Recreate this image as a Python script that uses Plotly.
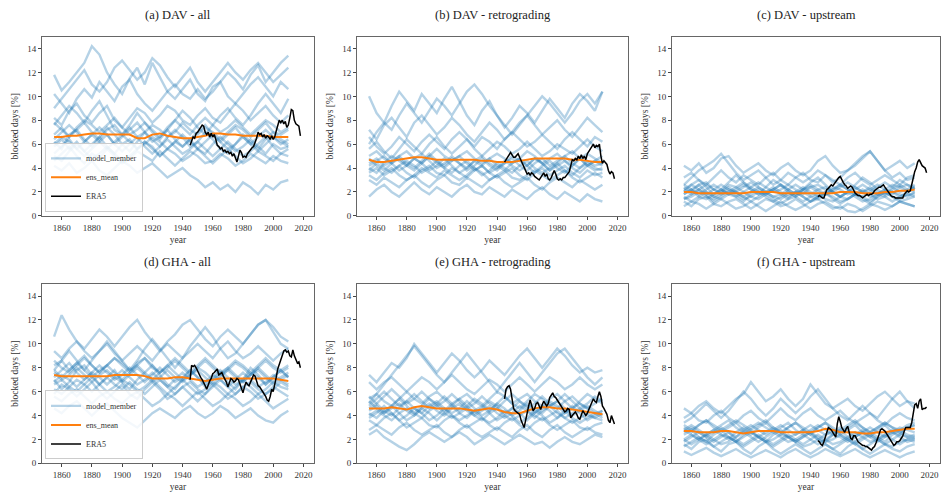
import plotly.graph_objects as go
from plotly.subplots import make_subplots

MEMBER_YEARS = list(range(1855, 2011, 5))
ERA5_YEARS = list(range(1945, 2019))

TITLES = ["(a) DAV - all", "(b) DAV - retrograding", "(c) DAV - upstream",
          "(d) GHA - all", "(e) GHA - retrograding", "(f) GHA - upstream"]

X_TICKS = [1860, 1880, 1900, 1920, 1940, 1960, 1980, 2000, 2020]
Y_TICKS = [0, 2, 4, 6, 8, 10, 12, 14]

# ---------------- (a) DAV - all ----------------
MEMBERS_A = [
    [11.8,10.5,11.2,12.0,12.8,14.2,13.5,12.0,11.0,10.2,11.5,12.4,11.0,12.8,11.6,10.4,9.8,10.6,11.4,10.2,9.6,10.8,11.2,12.0,11.4,10.6,11.8,12.6,11.2,12.0,12.8,13.4],
    [10.2,9.4,8.6,9.8,10.6,9.9,11.2,10.4,9.6,10.8,11.4,10.2,9.4,8.8,9.6,10.4,11.0,10.2,9.8,10.6,9.8,10.4,11.2,10.0,9.4,10.2,11.0,11.6,10.8,10.0,11.2,10.6],
    [8.2,7.6,8.8,9.4,8.4,7.8,8.6,9.2,8.0,7.4,8.2,9.0,8.6,7.8,8.4,9.2,8.8,8.0,7.6,8.4,9.0,8.2,7.8,8.6,9.4,8.8,8.0,8.6,9.2,8.4,7.8,8.4],
    [6.8,7.4,6.6,7.2,7.8,7.0,6.4,7.2,7.6,6.8,7.4,6.6,7.0,7.6,7.2,6.6,7.0,7.8,7.2,6.8,7.4,7.0,6.4,7.0,7.6,7.2,6.6,7.2,7.8,7.0,6.8,7.2],
    [5.8,6.4,5.6,6.2,5.4,6.0,6.6,5.8,5.2,6.0,6.4,5.6,6.2,5.8,5.0,5.6,6.2,5.8,6.4,5.6,5.2,6.0,6.6,6.0,5.4,5.8,6.4,5.8,5.2,6.0,5.6,5.8],
    [4.6,5.2,5.8,5.0,4.4,5.2,4.8,5.6,5.0,4.4,4.8,5.4,5.0,4.6,5.4,4.8,4.2,4.8,5.4,5.0,4.4,4.6,5.2,4.8,4.2,4.6,5.2,4.8,4.4,5.0,4.6,4.4],
    [4.2,3.8,4.4,3.6,4.0,4.6,3.8,3.4,4.0,4.6,4.2,3.6,4.0,4.4,3.8,3.2,3.6,4.0,3.4,3.0,2.4,2.8,2.2,2.6,2.0,2.8,2.4,1.8,2.6,2.2,2.8,3.0],
    [7.6,8.4,9.2,8.6,7.8,8.8,9.6,8.4,7.2,6.8,7.6,8.6,7.8,7.0,6.4,7.2,8.0,8.8,8.2,7.4,6.8,7.6,8.4,9.0,8.2,7.6,8.4,9.4,10.2,9.4,8.6,9.8],
    [6.2,5.6,6.8,7.2,6.4,5.8,6.6,7.4,6.8,6.0,5.4,6.2,7.0,6.4,5.8,6.6,7.2,6.6,5.8,6.2,7.0,6.4,5.6,5.2,6.0,6.8,6.2,5.6,6.4,7.0,6.4,6.0],
    [9.0,9.8,10.6,11.4,12.2,11.0,10.4,11.2,12.4,13.0,12.2,11.4,12.0,13.2,12.6,11.6,10.8,11.6,12.4,11.2,10.4,11.2,12.0,12.8,12.0,11.4,12.2,12.8,12.0,11.2,11.8,12.4],
    [6.4,7.0,7.6,7.0,6.2,6.8,7.4,6.8,6.0,6.6,7.2,7.8,7.0,6.2,6.6,7.2,6.4,5.8,6.4,7.0,7.6,6.8,6.2,6.8,7.4,6.6,6.0,6.6,7.2,6.6,6.0,6.4],
    [5.2,5.8,6.4,5.6,5.0,5.6,6.2,6.8,6.0,5.4,6.0,6.6,5.8,5.2,5.8,6.4,5.8,5.2,5.6,6.2,5.6,5.0,5.6,6.2,5.6,5.0,5.4,6.0,6.6,5.8,5.2,5.6],
    [7.8,7.2,6.6,7.4,8.0,7.6,7.0,7.6,8.2,7.4,6.8,7.2,7.8,7.2,6.6,7.4,8.0,7.4,6.8,7.6,8.2,7.6,7.0,7.4,8.0,7.4,6.8,7.4,8.0,7.6,7.0,7.4],
    [5.0,4.6,5.4,6.0,5.4,4.8,5.2,5.8,5.2,4.6,5.0,5.6,6.2,5.6,5.0,5.6,5.2,4.6,5.0,5.6,5.0,4.4,5.0,5.6,5.0,4.4,4.8,5.4,5.0,4.6,5.2,5.0],
    [6.0,6.6,6.2,5.6,6.2,6.8,6.2,5.6,6.2,6.8,6.2,5.6,6.0,6.6,6.2,5.6,6.2,6.8,6.2,5.6,6.2,6.8,6.2,5.6,6.0,6.6,6.0,5.4,6.0,6.6,6.2,5.8],
]
ENS_A = [6.6,6.6,6.7,6.7,6.8,6.9,6.9,6.8,6.8,6.8,6.8,6.5,6.5,6.8,6.9,6.7,6.6,6.5,6.5,6.6,6.7,6.9,6.9,6.8,6.8,6.7,6.7,6.7,6.7,6.6,6.6,6.6]
ERA5_A = [5.9,6.3,6.6,6.5,6.9,7.0,7.2,7.3,7.6,7.5,7.0,6.8,7.0,6.6,6.9,6.6,6.8,6.4,5.9,5.8,
          5.6,5.7,5.4,5.5,5.3,5.4,5.2,5.3,5.0,5.2,4.8,4.5,5.0,5.5,5.3,4.9,5.0,4.9,5.2,5.4,
          5.5,5.7,5.8,6.1,6.5,7.0,6.8,6.9,6.6,6.8,6.5,6.7,6.6,6.4,6.7,6.4,6.6,7.1,7.5,8.0,
          7.8,8.0,7.7,7.9,7.4,7.6,8.2,8.9,8.8,8.0,7.7,7.6,7.5,6.7]

# ---------------- (b) DAV - retrograding ----------------
MEMBERS_B = [
    [10.0,8.6,7.8,9.2,10.4,9.6,8.8,10.2,9.4,8.6,9.8,10.8,9.6,8.4,7.6,8.8,9.6,8.4,7.4,8.2,9.2,8.6,7.8,8.8,9.8,9.0,8.2,9.4,10.2,9.6,8.8,10.4],
    [7.2,6.4,7.6,8.2,7.4,6.6,7.8,8.4,7.6,6.8,7.4,8.2,7.6,6.8,6.2,7.0,7.8,7.2,6.4,7.0,7.8,8.4,7.6,6.8,7.4,8.0,7.2,6.6,7.4,8.2,7.6,7.0],
    [5.6,6.2,5.4,4.8,5.6,6.4,5.8,5.2,6.0,6.6,5.8,5.2,5.8,6.4,5.6,5.0,5.6,6.2,5.8,5.2,5.6,6.2,5.6,5.0,5.4,6.0,5.6,5.2,5.8,6.4,5.8,5.4],
    [4.4,4.8,4.2,4.6,5.0,4.4,4.0,4.6,5.2,4.6,4.2,4.8,4.4,4.0,4.6,5.0,4.4,4.0,4.4,4.8,4.2,3.8,4.4,4.8,4.2,4.6,5.0,4.4,4.0,4.6,4.2,4.4],
    [3.6,4.0,3.4,3.8,4.2,3.6,3.2,3.8,4.2,3.6,3.4,4.0,3.6,3.2,3.8,4.2,3.6,3.2,3.6,4.0,3.4,3.0,3.6,4.0,3.4,3.8,4.2,3.6,3.2,3.8,3.4,3.6],
    [3.0,2.6,3.2,2.8,2.4,3.0,3.4,2.8,2.4,3.0,3.4,2.8,2.6,3.2,2.8,2.4,3.0,3.4,2.8,2.4,2.8,3.2,2.6,2.2,2.8,3.2,2.8,2.4,3.0,2.6,2.2,2.6],
    [1.6,2.2,2.6,2.0,1.6,2.2,2.8,2.2,1.8,2.4,2.0,1.6,2.2,2.6,2.0,1.8,2.4,2.0,1.6,2.2,1.8,1.4,2.0,2.4,1.8,1.4,2.0,1.6,1.2,1.8,1.4,1.2],
    [6.0,7.0,7.8,7.2,8.4,9.4,8.6,7.8,8.8,9.8,9.2,8.4,9.4,10.4,11.0,10.2,9.2,8.4,7.6,6.8,7.6,8.4,9.2,10.0,9.4,8.6,7.8,8.6,9.6,10.2,9.4,10.4],
    [4.0,3.6,4.4,5.0,4.6,4.2,4.8,5.2,4.6,4.0,4.4,5.0,4.4,3.8,4.2,4.8,4.2,3.8,4.4,5.0,4.6,4.2,4.8,4.4,3.8,4.4,5.0,5.4,4.8,4.2,4.6,5.0],
    [6.6,5.8,5.2,5.8,6.6,6.0,5.4,6.2,6.8,6.2,5.6,6.4,7.0,6.4,5.8,6.6,6.2,5.6,6.4,7.0,6.4,5.8,6.2,6.8,6.2,5.6,6.4,7.0,6.4,5.8,6.6,6.2],
    [4.2,4.6,5.0,4.4,3.8,4.2,4.8,4.4,3.8,4.2,4.8,4.2,3.6,4.0,4.6,4.2,3.6,4.0,4.6,4.2,3.8,4.2,4.8,4.4,3.8,4.2,4.6,4.0,3.6,4.2,4.6,4.2],
    [3.4,3.0,3.6,4.0,3.4,3.0,3.4,4.0,3.6,3.2,3.8,3.4,3.0,3.4,4.0,3.6,3.0,3.4,3.8,3.2,3.0,3.4,3.8,3.4,3.0,3.4,3.8,3.2,2.8,3.2,3.6,3.2],
    [5.0,5.4,4.8,4.4,5.0,5.4,4.8,4.4,5.0,5.6,5.0,4.6,5.0,5.4,4.8,4.4,4.8,5.2,4.8,4.4,4.8,5.4,5.0,4.4,4.8,5.2,4.6,4.2,4.8,5.2,4.8,4.4],
    [3.8,4.4,4.0,3.6,4.2,4.6,4.2,3.6,4.0,4.6,4.0,3.6,4.2,4.6,4.0,3.4,3.8,4.4,4.0,3.6,4.2,4.6,4.0,3.6,4.0,4.4,3.8,3.4,4.0,4.4,4.0,3.8],
    [4.8,4.2,3.8,4.4,4.8,4.2,3.8,4.4,5.0,4.4,4.0,4.6,5.0,4.4,3.8,4.2,4.8,4.2,3.8,4.4,4.8,4.2,3.6,4.2,4.6,4.0,3.6,4.2,4.8,4.2,3.8,4.0],
]
ENS_B = [4.7,4.5,4.5,4.6,4.7,4.8,4.9,4.9,4.8,4.7,4.7,4.7,4.7,4.7,4.7,4.6,4.6,4.5,4.5,4.5,4.6,4.7,4.8,4.8,4.8,4.8,4.8,4.7,4.7,4.6,4.5,4.5]
ERA5_B = [4.5,4.7,5.0,5.2,5.3,5.1,4.9,4.9,5.1,5.2,4.9,4.6,4.3,4.0,3.7,3.5,3.6,3.4,3.6,3.5,
          3.3,3.2,3.1,3.0,3.2,3.4,3.6,3.3,3.5,3.1,3.0,3.2,3.5,3.8,3.5,3.1,3.0,3.1,3.0,3.2,
          3.2,3.4,3.6,3.7,4.2,4.7,4.6,4.8,4.7,5.0,4.8,5.1,4.8,5.0,4.7,5.2,5.4,5.6,5.8,6.0,
          5.7,5.9,5.8,6.0,5.0,4.4,4.6,4.4,4.3,3.8,3.5,3.7,3.6,3.1]

# ---------------- (c) DAV - upstream ----------------
MEMBERS_C = [
    [4.2,3.8,4.4,3.6,4.0,4.8,5.0,4.2,3.6,4.0,4.4,3.8,3.4,4.0,4.4,3.8,3.4,3.8,4.6,5.0,4.2,3.6,3.8,4.2,4.8,5.4,4.6,3.8,4.2,4.6,4.0,4.4],
    [3.2,3.6,3.0,2.6,3.2,3.8,3.2,2.8,3.4,3.0,2.6,3.2,3.6,3.0,2.6,3.2,3.6,3.0,2.8,3.4,3.0,2.6,3.2,3.6,3.0,2.6,3.0,3.4,3.0,2.6,3.2,3.4],
    [2.4,2.0,2.6,2.8,2.2,2.0,2.6,2.4,2.0,2.4,2.8,2.4,2.0,2.2,2.6,2.2,1.8,2.4,2.6,2.2,2.0,2.4,2.8,2.4,2.0,2.2,2.6,2.2,1.8,2.4,2.6,2.4],
    [1.8,2.2,1.6,1.4,1.8,2.2,1.8,1.6,2.0,1.6,1.4,1.8,2.2,1.8,1.4,1.6,2.0,1.6,1.4,1.8,2.0,1.6,1.4,1.8,2.2,1.8,1.4,1.6,2.0,1.8,1.6,2.0],
    [1.2,0.8,1.4,1.6,1.0,0.8,1.2,1.4,1.0,0.6,1.0,1.4,1.2,0.8,1.0,1.4,1.0,0.6,1.0,1.2,0.8,0.6,1.0,0.8,0.4,0.8,1.2,1.0,0.8,1.2,1.0,0.8],
    [2.0,2.6,3.0,2.4,1.8,2.2,2.8,3.4,2.8,2.2,1.8,2.4,3.0,2.6,2.0,1.6,2.2,2.8,3.2,2.6,2.0,1.6,2.0,2.6,3.2,2.8,2.2,1.8,2.4,3.0,2.6,2.2],
    [1.4,1.8,2.2,1.8,1.2,1.6,2.0,1.6,1.2,1.8,2.2,1.8,1.4,1.0,1.4,2.0,1.6,1.2,1.6,2.0,1.4,1.0,1.4,1.8,1.4,1.0,1.6,2.0,1.6,1.2,1.4,1.6],
    [2.6,3.2,3.8,4.2,4.6,5.2,4.4,3.6,3.0,3.4,3.8,3.2,2.6,3.0,3.6,3.2,2.8,3.2,3.8,3.4,2.8,3.2,3.8,4.4,5.0,5.4,4.6,3.8,3.2,3.6,3.0,3.2],
    [2.2,1.8,2.2,2.6,2.2,1.8,2.0,2.4,2.8,2.4,2.0,1.8,2.2,2.6,2.2,1.8,2.2,2.6,2.2,1.8,2.2,2.6,2.2,1.8,1.6,2.0,2.4,2.8,2.4,2.0,2.2,2.6],
    [0.8,1.2,1.0,0.6,1.0,1.4,1.0,0.6,0.8,1.2,0.8,0.4,0.8,1.2,0.8,0.5,0.8,1.2,1.4,1.0,0.6,0.8,0.4,0.3,0.6,1.0,0.8,0.5,0.8,1.2,1.0,0.8],
    [1.8,2.2,2.6,2.0,1.6,2.0,2.4,2.0,1.6,2.0,2.4,2.0,1.6,1.8,2.2,2.6,2.2,1.8,2.2,2.4,2.0,1.6,2.0,2.4,2.0,1.6,1.8,2.2,2.0,1.6,2.0,2.4],
    [2.6,2.2,1.8,2.2,2.6,2.2,1.8,2.2,2.6,2.2,1.8,2.0,2.4,2.0,1.6,2.0,2.4,2.0,1.6,2.0,2.4,2.2,1.8,2.2,2.6,2.2,1.8,2.2,2.6,2.4,2.0,2.4],
    [1.4,1.6,2.0,1.6,1.4,1.8,2.2,1.8,1.4,1.6,2.0,1.6,1.2,1.6,2.0,1.6,1.2,1.6,1.8,1.4,1.2,1.6,2.0,1.6,1.2,1.4,1.8,1.6,1.2,1.6,1.8,1.6],
    [2.2,2.6,2.2,1.8,2.2,2.6,2.2,2.0,2.4,2.8,2.4,2.0,2.2,2.6,2.2,1.8,2.2,2.4,2.0,1.8,2.2,2.6,2.2,1.8,2.0,2.4,2.0,1.8,2.2,2.6,2.2,2.0],
    [1.6,1.2,1.6,2.0,1.6,1.4,1.8,2.0,1.6,1.2,1.6,2.0,1.6,1.4,1.8,2.0,1.6,1.2,1.6,1.8,1.6,1.2,1.4,1.8,1.6,1.2,1.6,2.0,1.6,1.4,1.8,1.8],
]
ENS_C = [2.0,2.0,1.9,1.9,1.9,1.9,1.9,1.9,1.9,2.0,2.0,2.0,2.0,1.9,1.9,1.9,1.9,1.9,1.9,1.9,1.9,2.0,2.0,2.0,1.9,1.9,1.9,2.0,2.0,2.1,2.1,2.2]
ERA5_C = [1.6,1.7,1.6,1.5,1.5,1.9,2.2,2.3,2.5,2.6,2.5,2.7,2.9,3.1,3.2,3.3,3.0,2.8,2.6,2.5,
          2.3,2.4,2.5,2.4,2.1,1.9,1.8,1.7,1.7,1.6,1.5,1.6,1.7,1.8,1.7,1.8,1.8,1.9,2.1,2.2,
          2.3,2.4,2.4,2.5,2.6,2.4,2.2,2.0,1.8,1.7,1.6,1.6,1.5,1.5,1.5,1.5,1.5,1.5,1.8,2.0,
          2.1,2.0,2.1,2.6,3.2,3.7,4.0,4.5,4.7,4.4,4.2,4.1,4.0,3.6]

# ---------------- (d) GHA - all ----------------
MEMBERS_D = [
    [10.6,12.4,11.2,10.2,9.6,10.4,11.2,10.6,9.8,10.6,11.4,12.0,11.0,10.2,9.4,10.2,10.8,11.6,12.0,11.2,10.4,9.8,10.6,11.2,10.6,10.0,10.8,11.6,12.0,11.4,10.6,10.2],
    [9.4,8.8,9.6,10.2,9.4,8.8,9.4,10.0,9.2,8.6,9.2,9.8,9.2,8.6,9.4,10.0,9.4,8.8,9.4,10.0,9.4,8.8,9.6,10.2,9.4,8.8,9.2,9.8,9.2,8.6,9.2,9.6],
    [8.2,8.6,7.8,8.4,9.0,8.2,7.6,8.2,8.8,8.2,7.6,8.4,8.8,8.0,7.6,8.2,8.8,8.2,7.6,8.2,8.8,8.2,7.6,8.0,8.6,8.2,7.6,8.2,8.8,8.2,7.8,8.2],
    [7.6,7.0,7.4,8.0,7.4,6.8,7.4,7.8,7.2,6.8,7.4,8.0,7.4,6.8,7.2,7.8,7.2,6.8,7.4,7.8,7.2,6.6,7.2,7.8,7.2,6.8,7.4,7.8,7.2,6.6,7.0,7.4],
    [6.6,7.0,6.4,6.0,6.6,7.2,6.6,6.0,6.4,7.0,6.6,6.0,6.4,7.0,6.4,5.8,6.4,7.0,6.4,5.8,6.2,6.8,6.4,5.8,6.4,7.0,6.4,5.8,6.2,6.8,6.4,6.2],
    [5.6,5.2,5.8,6.2,5.6,5.0,5.6,6.0,5.4,5.0,5.6,6.0,5.4,4.8,5.2,5.8,5.4,4.8,5.4,6.0,5.4,4.8,5.2,5.8,5.4,4.8,5.2,5.8,5.2,4.6,5.0,5.4],
    [4.6,4.2,4.8,5.2,4.6,4.0,4.6,5.0,4.4,3.8,3.4,3.0,3.6,4.2,4.6,4.2,3.8,4.4,4.8,4.2,3.8,4.2,4.8,4.4,3.8,4.2,4.6,4.0,3.6,3.4,4.0,4.4],
    [7.8,8.6,9.4,8.6,7.8,8.6,9.4,10.2,9.4,8.6,7.8,8.6,9.6,10.4,9.6,8.8,8.0,8.8,9.8,10.6,11.4,10.6,9.6,8.8,9.2,10.0,10.8,11.6,12.0,11.0,10.0,9.6],
    [7.0,6.2,6.8,7.8,8.2,7.4,6.6,7.2,7.8,6.8,6.2,7.0,7.6,8.2,7.4,6.6,6.2,7.0,7.8,7.2,6.4,7.0,7.6,6.8,6.2,7.0,8.0,7.4,6.6,7.2,7.8,7.2],
    [5.8,6.6,6.2,5.6,6.2,6.8,6.0,5.4,6.0,6.6,5.8,5.4,6.2,6.8,6.2,5.4,5.8,6.4,5.8,5.2,5.8,6.6,6.0,5.4,5.8,6.4,6.0,5.4,5.8,6.4,6.0,5.6],
    [7.2,7.8,8.4,7.6,7.0,7.6,8.2,7.6,7.0,7.4,8.0,7.4,6.8,7.4,8.0,7.4,6.8,7.2,7.8,7.2,6.6,7.2,7.8,7.2,6.6,7.0,7.6,7.2,6.6,7.2,7.8,7.2],
    [6.2,5.8,6.4,7.0,6.6,6.0,6.6,7.2,6.6,6.2,6.8,6.2,5.8,6.4,7.0,6.4,5.8,6.4,6.8,6.2,5.8,6.4,7.0,6.4,5.8,6.4,6.8,6.2,5.8,6.2,6.8,6.4],
    [8.6,8.0,7.6,8.2,8.8,8.2,7.6,8.2,8.8,8.4,7.8,8.2,8.8,8.2,7.6,8.0,8.6,8.0,7.4,8.0,8.6,8.0,7.4,7.8,8.4,8.0,7.4,8.0,8.6,8.0,7.6,8.0],
    [6.8,7.4,7.0,6.4,7.0,7.6,7.2,6.6,7.2,7.8,7.2,6.6,7.0,7.6,7.0,6.4,7.0,7.6,7.0,6.4,6.8,7.4,7.0,6.4,7.0,7.6,7.0,6.4,6.8,7.4,7.0,6.6],
    [7.8,7.2,7.8,8.4,7.8,7.2,7.8,8.2,7.6,7.0,7.6,8.2,7.6,7.0,7.6,8.2,7.6,7.0,7.4,8.0,7.6,7.0,7.4,8.0,7.4,6.8,7.4,8.0,7.4,6.8,7.2,7.6],
]
ENS_D = [7.4,7.3,7.3,7.3,7.3,7.3,7.3,7.3,7.4,7.4,7.4,7.4,7.3,7.1,7.1,7.1,7.2,7.2,7.1,7.0,6.9,7.0,7.1,7.1,7.1,7.1,7.1,7.1,7.1,7.1,7.0,6.9]
ERA5_D = [7.0,8.2,8.1,8.2,8.0,7.7,7.4,7.2,7.0,6.8,6.5,6.2,6.6,6.9,7.1,7.5,7.6,7.8,7.9,7.4,
          7.5,7.6,7.3,7.1,6.8,6.4,6.8,7.1,7.0,6.8,6.9,7.1,7.0,6.6,6.4,5.9,6.4,6.8,6.6,6.5,
          6.8,7.2,7.4,7.3,6.9,6.5,6.4,6.2,6.1,5.9,5.6,5.3,5.2,5.6,6.2,6.0,6.5,7.2,7.9,8.3,
          8.7,9.0,9.4,9.5,9.3,9.4,9.0,8.9,9.5,9.0,8.6,8.4,8.5,8.0]

# ---------------- (e) GHA - retrograding ----------------
MEMBERS_E = [
    [7.4,6.8,7.6,8.4,8.0,8.8,10.0,9.2,8.4,7.6,8.4,9.2,8.6,7.8,7.2,7.8,8.6,8.0,7.4,8.2,9.0,9.6,8.8,8.0,8.8,9.6,9.0,8.2,7.6,8.0,7.6,7.8],
    [6.8,6.2,6.8,7.2,6.6,6.0,6.6,7.2,6.8,6.2,6.8,7.4,6.8,6.2,5.8,6.4,7.0,6.6,6.0,6.6,7.2,6.6,6.0,6.6,7.2,6.8,6.2,6.6,7.2,6.6,6.2,6.6],
    [5.4,5.8,5.2,4.8,5.4,6.0,5.4,5.0,5.6,6.0,5.4,4.8,5.4,5.8,5.2,4.8,5.4,6.0,5.6,5.0,5.4,5.8,5.2,4.8,5.4,5.8,5.2,4.6,5.2,5.8,5.4,5.0],
    [4.4,4.8,4.2,4.6,5.0,4.4,4.0,4.6,5.0,4.4,4.0,4.6,5.0,4.4,4.0,4.4,4.8,4.2,3.8,4.2,4.8,4.4,3.8,4.4,4.8,4.2,3.8,4.2,4.6,4.0,3.8,4.2],
    [3.6,3.2,3.8,4.2,3.6,3.0,3.4,3.8,3.2,3.0,3.6,4.0,3.4,3.0,3.4,3.8,3.2,2.8,3.4,3.8,3.2,2.8,3.4,3.8,3.2,2.8,3.2,3.6,3.0,2.8,3.2,3.4],
    [2.4,2.8,2.2,1.8,1.4,1.1,1.6,2.2,2.6,2.2,1.8,2.2,2.6,2.2,1.6,2.0,2.4,2.0,1.6,2.0,2.4,2.0,1.6,1.8,1.3,1.8,2.2,1.8,1.6,2.0,2.4,2.2],
    [2.8,3.2,2.8,2.4,3.0,3.4,2.8,2.4,2.8,3.2,2.6,2.2,2.8,3.2,2.6,2.2,2.6,3.0,2.6,2.2,2.8,3.2,2.6,2.2,2.8,3.2,2.6,2.2,2.6,3.0,2.6,2.4],
    [5.0,5.8,6.6,7.4,8.2,9.0,9.8,9.0,8.2,7.4,6.8,7.6,8.4,9.2,8.4,7.6,6.8,6.0,6.8,7.6,8.4,7.6,6.8,7.6,8.4,9.2,9.6,8.8,8.0,7.2,6.6,7.2],
    [4.2,3.8,4.4,4.8,4.2,3.6,4.0,4.6,4.2,3.6,4.2,4.8,4.2,3.8,4.4,4.8,4.2,3.6,4.0,4.6,4.2,3.6,4.2,4.8,4.4,3.8,4.2,4.8,4.2,3.6,4.0,4.4],
    [4.8,5.4,6.0,5.4,4.8,5.2,5.8,5.2,4.6,5.0,5.6,5.0,4.4,4.8,5.4,5.0,4.4,5.0,5.6,5.0,4.6,5.2,5.8,5.4,4.8,5.2,5.8,5.2,4.6,5.0,5.6,5.2],
    [4.6,5.0,4.4,4.0,4.6,5.2,4.6,4.2,4.8,5.2,4.6,4.2,4.6,5.2,4.6,4.0,4.4,5.0,4.6,4.0,4.4,5.0,4.6,4.2,4.8,5.2,4.6,4.0,4.4,4.8,4.4,4.0],
    [3.8,4.2,4.8,4.2,3.6,4.0,4.6,4.2,3.6,4.0,4.6,4.0,3.6,4.0,4.4,3.8,3.4,3.8,4.4,4.0,3.4,3.8,4.4,4.0,3.4,3.8,4.4,3.8,3.4,3.8,4.2,3.8],
    [5.6,5.0,5.6,6.2,5.6,5.0,5.4,6.0,5.4,4.8,5.2,5.8,5.2,4.6,5.0,5.6,5.0,4.6,5.2,5.8,5.2,4.6,5.0,5.6,5.0,4.6,5.2,5.6,5.0,4.6,5.0,5.4],
    [4.0,4.4,4.0,3.6,4.2,4.6,4.2,3.8,4.4,4.8,4.2,3.8,4.2,4.6,4.0,3.6,4.2,4.6,4.0,3.6,4.0,4.4,4.0,3.6,4.0,4.4,3.8,3.4,3.8,4.2,3.8,3.6],
    [5.2,4.6,4.2,4.8,5.4,4.8,4.2,4.8,5.4,5.0,4.4,5.0,5.4,4.8,4.2,4.6,5.2,4.8,4.2,4.6,5.2,4.8,4.2,4.6,5.2,4.8,4.2,4.6,5.0,4.6,4.2,4.4],
]
ENS_E = [4.6,4.6,4.6,4.7,4.6,4.5,4.7,4.8,4.7,4.6,4.6,4.6,4.6,4.5,4.4,4.5,4.6,4.5,4.3,4.2,4.2,4.4,4.6,4.7,4.7,4.6,4.6,4.5,4.4,4.3,4.2,4.1]
ERA5_E = [5.4,6.2,6.4,6.5,6.2,5.4,4.6,4.4,4.3,4.2,4.1,3.6,3.2,3.0,3.6,4.3,4.8,5.3,4.9,4.4,
          4.6,5.0,5.1,4.8,4.5,4.9,5.2,5.0,4.8,5.0,5.5,5.7,5.9,5.6,5.5,5.3,5.1,4.9,4.6,4.5,
          4.3,4.4,4.6,4.5,3.8,4.0,4.2,4.3,4.1,3.8,3.7,4.1,4.4,4.2,4.0,4.2,4.5,4.7,5.1,5.4,
          5.2,5.1,5.6,6.0,5.6,4.8,4.6,4.3,4.1,3.6,3.4,4.0,3.7,3.3]

# ---------------- (f) GHA - upstream ----------------
MEMBERS_F = [
    [4.6,4.2,4.8,5.2,4.6,4.2,4.8,5.4,5.8,6.8,6.0,5.2,5.6,6.2,5.4,4.8,5.4,6.6,5.8,5.0,4.6,5.0,5.4,4.8,4.4,5.0,5.6,6.0,5.4,4.8,5.2,5.0],
    [3.8,4.2,3.6,3.4,4.0,4.4,3.8,3.4,4.0,4.4,3.8,3.4,4.0,4.6,4.0,3.6,4.2,4.6,4.0,3.6,4.0,4.4,3.8,3.4,3.8,4.2,3.6,3.2,3.8,4.2,3.8,3.6],
    [3.0,2.6,3.2,3.6,3.0,2.6,3.0,3.4,2.8,2.4,3.0,3.4,2.8,2.4,3.0,3.4,2.8,2.4,3.0,3.4,2.8,2.4,2.8,3.2,2.6,2.2,2.8,3.2,2.6,2.4,3.0,3.2],
    [2.4,2.8,2.2,1.8,2.4,2.8,2.2,1.8,2.4,2.8,2.2,1.8,2.4,2.8,2.2,1.8,2.2,2.6,2.0,1.8,2.4,2.8,2.2,1.8,2.2,2.6,2.2,1.8,2.4,2.8,2.4,2.2],
    [1.6,1.2,1.8,2.0,1.4,1.0,1.6,1.8,1.2,0.8,1.4,1.8,1.2,0.8,1.2,1.6,1.2,0.8,1.2,1.6,1.2,0.8,1.4,1.8,1.2,0.8,1.2,1.6,1.2,1.0,1.4,1.6],
    [1.8,2.2,2.6,2.2,1.8,2.2,2.6,2.0,1.6,2.0,2.4,2.0,1.6,2.0,2.4,2.0,1.6,2.0,2.4,2.0,1.6,1.8,2.2,2.6,2.2,1.8,2.0,2.4,2.0,1.6,2.0,2.2],
    [3.4,3.8,4.4,5.0,4.4,3.8,4.4,5.2,6.0,5.4,4.6,4.0,4.6,5.4,4.8,4.2,4.8,5.6,6.2,5.4,4.6,4.0,3.6,4.2,4.8,4.2,3.8,4.6,5.4,6.0,5.2,4.6],
    [1.0,0.7,1.0,1.3,0.9,0.6,0.9,1.2,0.8,0.5,0.8,1.1,0.8,0.5,0.9,1.2,0.8,0.5,0.8,1.2,0.9,0.6,0.9,1.2,0.8,0.5,0.8,1.1,0.8,0.5,0.8,1.0],
    [2.8,3.2,2.8,2.4,2.8,3.2,3.6,3.0,2.6,3.0,3.4,3.0,2.6,3.0,3.4,2.8,2.4,2.8,3.2,2.8,2.4,2.8,3.2,3.6,3.0,2.6,3.0,3.4,3.0,2.6,3.0,3.2],
    [2.0,1.6,2.0,2.4,2.0,1.6,1.8,2.2,2.6,2.2,1.8,2.2,2.6,2.2,1.8,2.0,2.4,2.0,1.6,2.0,2.4,2.2,1.8,2.2,2.6,2.2,1.8,2.2,2.6,2.2,1.8,2.0],
    [2.6,3.0,2.6,2.2,2.6,3.0,2.6,2.2,2.8,3.2,2.8,2.4,2.8,3.2,2.8,2.4,2.8,3.2,2.8,2.4,2.6,3.0,2.6,2.2,2.6,3.0,2.6,2.2,2.6,3.0,2.8,2.6],
    [2.0,2.4,2.0,1.6,2.0,2.4,2.2,1.8,2.2,2.6,2.2,1.8,2.0,2.4,2.2,1.8,2.2,2.6,2.2,1.8,2.0,2.4,2.0,1.6,2.0,2.4,2.0,1.6,2.0,2.4,2.2,2.0],
    [3.2,2.8,3.2,3.6,3.2,2.8,3.2,3.6,3.2,2.8,3.2,3.6,3.0,2.6,3.0,3.4,3.0,2.6,3.0,3.4,3.0,2.6,3.0,3.4,3.0,2.6,3.0,3.4,3.0,2.8,3.2,3.4],
    [1.4,1.8,2.2,1.8,1.4,1.8,2.2,1.8,1.4,1.8,2.2,1.8,1.4,1.8,2.2,1.8,1.4,1.6,2.0,1.6,1.2,1.6,2.0,1.6,1.2,1.6,2.0,1.6,1.4,1.8,2.0,1.8],
    [2.8,2.4,2.0,2.4,2.8,2.4,2.0,2.6,3.0,2.6,2.2,2.6,3.0,2.6,2.2,2.4,2.8,2.4,2.0,2.4,2.8,2.4,2.0,2.4,2.8,2.4,2.0,2.4,2.8,2.6,2.2,2.4],
]
ENS_F = [2.7,2.7,2.6,2.6,2.6,2.7,2.7,2.6,2.5,2.6,2.7,2.7,2.7,2.6,2.6,2.6,2.6,2.6,2.7,2.9,2.8,2.6,2.6,2.6,2.5,2.5,2.6,2.6,2.7,2.8,2.9,2.9]
ERA5_F = [1.9,1.8,1.6,1.5,1.8,2.2,2.6,3.0,2.9,2.8,2.6,2.4,2.2,3.3,3.9,3.5,3.0,2.8,2.6,2.9,
          3.1,2.6,2.1,2.0,2.3,2.3,2.0,1.8,1.7,1.6,1.5,1.5,1.4,1.4,1.3,1.2,1.1,1.3,1.4,1.7,
          2.0,2.4,2.8,2.9,2.8,2.7,2.5,2.3,2.1,1.9,1.7,1.5,1.6,1.8,1.8,1.9,2.1,2.3,2.7,3.0,
          3.0,3.0,3.0,3.4,4.2,4.9,5.0,4.6,5.2,5.4,4.5,4.6,4.6,4.7]

PANELS = [
    (MEMBERS_A, ENS_A, ERA5_A), (MEMBERS_B, ENS_B, ERA5_B), (MEMBERS_C, ENS_C, ERA5_C),
    (MEMBERS_D, ENS_D, ERA5_D), (MEMBERS_E, ENS_E, ERA5_E), (MEMBERS_F, ENS_F, ERA5_F),
]

W, H = 941, 502
FONT = "Liberation Serif"
MEMBER_COLOR = "rgba(31,119,180,0.33)"
ENS_COLOR = "#ff7f0e"
ERA5_COLOR = "black"

COL_PX = [(42, 314), (357, 628), (672, 940)]
ROW_PX = [(37, 218), (287, 468)]

fig = make_subplots(rows=2, cols=3)

for i, (members, ens, era5) in enumerate(PANELS):
    r, c = i // 3 + 1, i % 3 + 1
    has_legend = (c == 1)
    leg = "legend" if r == 1 else "legend2"
    for j, m in enumerate(members):
        fig.add_trace(go.Scatter(x=MEMBER_YEARS, y=m, mode="lines",
                                 line=dict(color=MEMBER_COLOR, width=2.4),
                                 name="model_member", legend=leg,
                                 showlegend=(has_legend and j == 0),
                                 hoverinfo="skip"), row=r, col=c)
    fig.add_trace(go.Scatter(x=MEMBER_YEARS, y=ens, mode="lines",
                             line=dict(color=ENS_COLOR, width=2),
                             name="ens_mean", legend=leg, showlegend=has_legend),
                  row=r, col=c)
    fig.add_trace(go.Scatter(x=ERA5_YEARS, y=era5, mode="lines",
                             line=dict(color=ERA5_COLOR, width=1.5),
                             name="ERA5", legend=leg, showlegend=has_legend),
                  row=r, col=c)

annotations = []
for i in range(6):
    r, c = i // 3, i % 3
    x0, x1 = COL_PX[c]
    y0, y1 = ROW_PX[r]
    idx = "" if i == 0 else str(i + 1)
    fig.layout["xaxis" + idx].update(
        domain=[x0 / W, x1 / W], range=[1847, 2027], tickvals=X_TICKS,
        showline=True, mirror=True, linecolor="#666", linewidth=1,
        ticks="outside", ticklen=3, tickcolor="#444", showgrid=False, zeroline=False,
        tickfont=dict(family=FONT, size=9, color="#333"),
        title=dict(text="year", font=dict(family=FONT, size=9.5, color="#333"), standoff=4))
    fig.layout["yaxis" + idx].update(
        domain=[1 - y1 / H, 1 - y0 / H], range=[0, 15], tickvals=Y_TICKS,
        showline=True, mirror=True, linecolor="#666", linewidth=1,
        ticks="outside", ticklen=3, tickcolor="#444", showgrid=False, zeroline=False,
        tickfont=dict(family=FONT, size=9, color="#333"),
        title=dict(text="blocked days [%]", font=dict(family=FONT, size=9.5, color="#333"), standoff=6))
    annotations.append(dict(text=TITLES[i], x=(x0 + x1) / 2 / W, y=1 - (y0 - 22) / H,
                            xref="paper", yref="paper", showarrow=False,
                            xanchor="center", yanchor="middle",
                            font=dict(family=FONT, size=12.5, color="#222")))

legend_style = dict(xanchor="left", yanchor="bottom", bgcolor="rgba(255,255,255,0.85)",
                    bordercolor="#ccc", borderwidth=1,
                    font=dict(family=FONT, size=8, color="#333"),
                    tracegroupgap=0, itemwidth=30)

fig.update_layout(
    width=W, height=H, margin=dict(l=0, r=0, t=0, b=0),
    paper_bgcolor="white", plot_bgcolor="white",
    annotations=annotations,
    legend=dict(x=45 / W, y=1 - 214 / H, **legend_style),
    legend2=dict(x=45 / W, y=1 - 464 / H, **legend_style),
)

fig.write_html("out.html")
